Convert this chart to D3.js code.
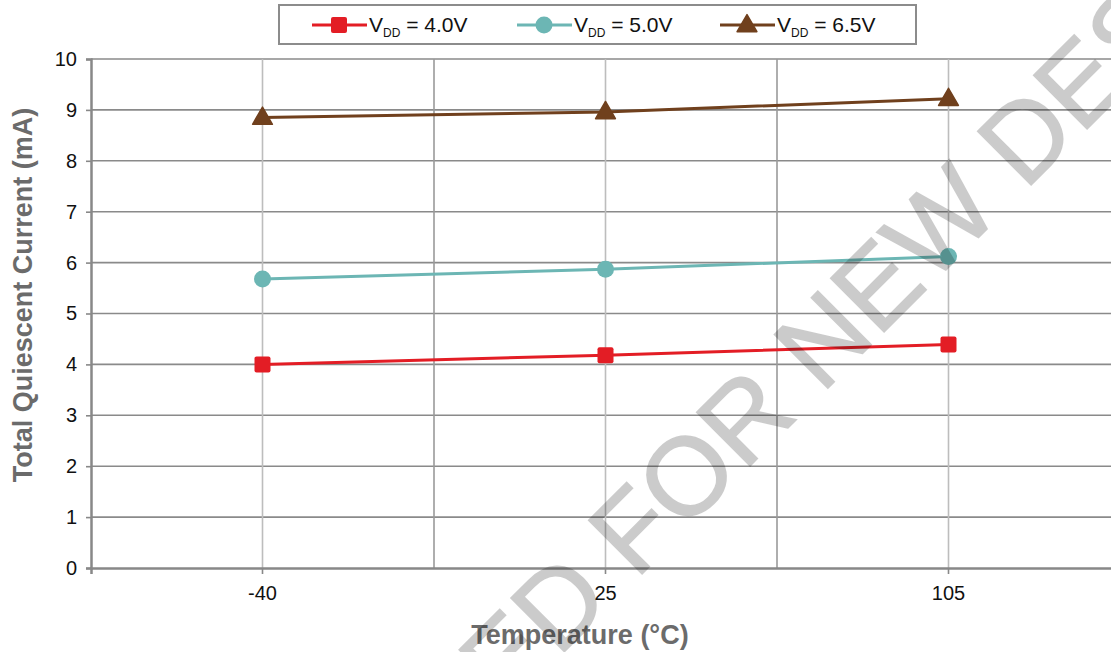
<!DOCTYPE html>
<html>
<head>
<meta charset="utf-8">
<script src="https://cdn.jsdelivr.net/npm/d3@7"></script>
<style>
  body { margin: 0; background: #fff; }
  svg { display: block; font-family: "Liberation Sans", Arial, sans-serif; }
</style>
</head>
<body>
<script>
// chart data
const temperatures = ["-40", "25", "105"];
const seriesNames = ["4.0V", "5.0V", "6.5V"];
const vdd40 = [4.00, 4.18, 4.39];
const vdd50 = [5.68, 5.87, 6.12];
const vdd65 = [8.85, 8.96, 9.22];
const yTicks = [0, 1, 2, 3, 4, 5, 6, 7, 8, 9, 10];

const colors = ["#e31d25", "#6cb6b4", "#70401d"];
const markers = ["square", "circle", "triangle"];
const allSeries = [vdd40, vdd50, vdd65];

const width = 1111, height = 652;
const margin = {top: 59, left: 91, bottom: 84};

let svg = d3.select("body")
    .append("svg")
    .attr("width", width)
    .attr("height", height);

// scales
let xScale = d3.scaleBand()
    .domain(temperatures)
    .range([margin.left, margin.left + 3 * 343]);
let xc = (d) => xScale(d) + xScale.bandwidth() / 2;

let yScale = d3.scaleLinear()
    .domain([0, 10])
    .range([height - margin.bottom, margin.top]);

// horizontal grid
svg.append("g")
    .selectAll("line")
    .data(yTicks.slice(1))
    .join("line")
    .attr("x1", margin.left)
    .attr("x2", width)
    .attr("y1", (d) => yScale(d))
    .attr("y2", (d) => yScale(d))
    .attr("stroke", "#8a8a8a")
    .attr("stroke-width", 1.6);

// vertical grid: band edges and category centres
svg.append("g")
    .selectAll("line")
    .data(temperatures.slice(1))
    .join("line")
    .attr("x1", (d) => xScale(d))
    .attr("x2", (d) => xScale(d))
    .attr("y1", yScale(10))
    .attr("y2", yScale(0))
    .attr("stroke", "#9a9a9a")
    .attr("stroke-width", 1.6);

svg.append("g")
    .selectAll("line")
    .data(temperatures)
    .join("line")
    .attr("x1", (d) => xc(d))
    .attr("x2", (d) => xc(d))
    .attr("y1", yScale(10))
    .attr("y2", yScale(0))
    .attr("stroke", "#bdbdbd")
    .attr("stroke-width", 1.6);

// axes
let xAxis = d3.axisBottom(xScale).tickSize(6).tickPadding(12);
let gx = svg.append("g")
    .attr("transform", `translate(0, ${yScale(0)})`)
    .call(xAxis);
gx.select(".domain").attr("stroke", "#888").attr("stroke-width", 2.5);
gx.selectAll(".tick line").attr("stroke", "#888").attr("stroke-width", 1.6);
gx.selectAll(".tick text")
    .attr("font-size", "20px")
    .attr("font-family", "Liberation Sans, Arial, sans-serif")
    .attr("fill", "#111");

let yAxis = d3.axisLeft(yScale).tickValues(yTicks).tickSize(5).tickPadding(9);
let gy = svg.append("g")
    .attr("transform", `translate(${margin.left}, 0)`)
    .call(yAxis);
gy.select(".domain").attr("stroke", "#888").attr("stroke-width", 2.5);
gy.selectAll(".tick line").attr("stroke", "#888").attr("stroke-width", 1.6);
gy.selectAll(".tick text")
    .attr("font-size", "20px")
    .attr("font-family", "Liberation Sans, Arial, sans-serif")
    .attr("fill", "#111");

// axis titles
svg.append("text")
    .attr("x", 580)
    .attr("y", 644)
    .attr("text-anchor", "middle")
    .attr("font-size", "27px")
    .attr("font-weight", "bold")
    .attr("fill", "#6b6b6b")
    .text("Temperature (°C)");

svg.append("text")
    .attr("transform", "translate(32, 295) rotate(-90)")
    .attr("text-anchor", "middle")
    .attr("font-size", "27px")
    .attr("font-weight", "bold")
    .attr("fill", "#6b6b6b")
    .text("Total Quiescent Current (mA)");

// draw a marker of a given kind
function drawMarker(g, kind, x, y, color) {
    if (kind === "square") {
        g.append("rect")
            .attr("x", x - 8).attr("y", y - 8)
            .attr("width", 16).attr("height", 16)
            .attr("rx", 2)
            .attr("fill", color);
    } else if (kind === "circle") {
        g.append("circle")
            .attr("cx", x).attr("cy", y).attr("r", 8.5)
            .attr("fill", color);
    } else {
        g.append("path")
            .attr("d", d3.symbol(d3.symbolTriangle, 170)())
            .attr("transform", `translate(${x}, ${y + 1})`)
            .attr("fill", color)
            .attr("stroke", color)
            .attr("stroke-width", 1.5)
            .attr("stroke-linejoin", "round");
    }
}

// series lines + markers
let line = d3.line()
    .x((d, i) => xc(temperatures[i]))
    .y((d) => yScale(d));

allSeries.forEach((values, s) => {
    let g = svg.append("g");
    g.append("path")
        .datum(values)
        .attr("d", line)
        .attr("fill", "none")
        .attr("stroke", colors[s])
        .attr("stroke-width", 3);
    values.forEach((v, i) => drawMarker(g, markers[s], xc(temperatures[i]), yScale(v), colors[s]));
});

// legend
let legend = svg.append("g");
legend.append("rect")
    .attr("x", 279).attr("y", 5)
    .attr("width", 637).attr("height", 39)
    .attr("fill", "#fff")
    .attr("stroke", "#8c8c8c")
    .attr("stroke-width", 2);

const legendX = [312, 517, 720];
seriesNames.forEach((name, s) => {
    let lx = legendX[s];
    legend.append("line")
        .attr("x1", lx).attr("x2", lx + 55)
        .attr("y1", 25).attr("y2", 25)
        .attr("stroke", colors[s])
        .attr("stroke-width", 3);
    drawMarker(legend, markers[s], lx + 27, 25, colors[s]);
    let t = legend.append("text")
        .attr("x", lx + 57)
        .attr("y", 32)
        .attr("font-size", "21px")
        .attr("fill", "#111");
    t.append("tspan").text("V");
    t.append("tspan").attr("font-size", "12px").attr("dy", 5).text("DD");
    t.append("tspan").attr("dy", -5).text(" = " + name);
});

// watermark on top
svg.append("g")
    .attr("opacity", 0.2)
    .append("text")
    .attr("transform", "translate(589, 627) rotate(-45)")
    .attr("text-anchor", "middle")
    .attr("font-size", "110px")
    .attr("fill", "#000")
    .attr("stroke", "#000")
    .attr("stroke-width", 1.5)
    .text("NOT RECOMMENDED FOR NEW DESIGNS");
</script>
</body>
</html>
